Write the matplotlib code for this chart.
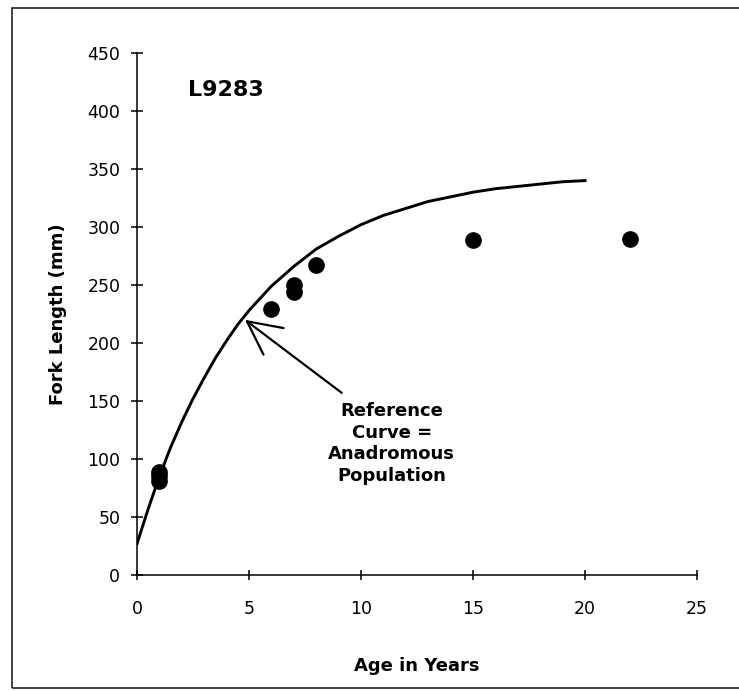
import numpy as np
import matplotlib
matplotlib.use('Agg')
import matplotlib.pyplot as plt
from matplotlib.patches import Rectangle, FancyArrowPatch

# ------------------------------------------------------------------
# Dados
# ------------------------------------------------------------------
# curva de referencia (populacao anadroma)
curva_idade = [0, 0.5, 1, 1.5, 2, 2.5, 3, 3.5, 4, 4.5, 5, 6, 7, 8, 9, 10,
               11, 12, 13, 14, 15, 16, 17, 18, 19, 20]
curva_comp = [27, 57, 85, 110, 132, 152, 170, 187, 202, 216, 228, 249, 266,
              281, 292, 302, 310, 316, 322, 326, 330, 333, 335, 337, 339, 340]

# peixes amostrados (L9283)
idade = [1, 1, 1, 6, 7, 7, 8, 15, 22]
comprimento = [89, 85, 81, 229, 250, 244, 267, 289, 290]

x_ticks = [0, 5, 10, 15, 20, 25]
y_ticks = [0, 50, 100, 150, 200, 250, 300, 350, 400, 450]

W, H = 739, 691
fig = plt.figure(figsize=(W / 100, H / 100), dpi=100)
ax = fig.add_axes([137 / W, 1 - 575 / H, 560 / W, 522 / H])

# moldura em volta do grafico (lado direito fica fora da imagem)
fig.patches.append(Rectangle((12 / W, 1 - 688 / H), 1.0, 680 / H,
                             transform=fig.transFigure, fill=False,
                             lw=1.2, edgecolor='#222222'))

ax.plot(curva_idade, curva_comp, color='black', lw=2.1, zorder=3)
ax.plot(idade, comprimento, 'o', color='black', ms=11, zorder=4, clip_on=False)

ax.set_xlim(0, 25)
ax.set_ylim(0, 450)
ax.set_xticks(x_ticks)
ax.set_yticks(y_ticks)

for s in ['top', 'right']:
    ax.spines[s].set_visible(False)
for s in ['left', 'bottom']:
    ax.spines[s].set_linewidth(1.1)

ax.tick_params(axis='y', direction='inout', length=8, width=1.1, pad=8,
               labelsize=12.5)
ax.tick_params(axis='x', direction='inout', length=7, width=1.1, pad=14.5,
               labelsize=12.5)

ax.set_xlabel('Age in Years', fontsize=13, fontweight='bold')
ax.xaxis.set_label_coords(0.5, -0.157)
ax.set_ylabel('Fork Length (mm)', fontsize=13, fontweight='bold')
ax.yaxis.set_label_coords(-0.125, 0.5)

ax.text(2.28, 418, 'L9283', fontsize=16, fontweight='bold', ha='left', va='center')

ax.text(11.37, 149, 'Reference\nCurve =\nAnadromous\nPopulation', fontsize=13,
        fontweight='bold', ha='center', va='top', multialignment='center',
        linespacing=1.25)

seta = FancyArrowPatch((9.14, 157), (4.82, 220),
                       arrowstyle='->,head_length=2.4,head_width=1.2',
                       mutation_scale=10, lw=1.6, color='black',
                       shrinkA=0, shrinkB=0, zorder=5)
ax.add_patch(seta)

fig.savefig('out.png', dpi=100)
plt.close(fig)
